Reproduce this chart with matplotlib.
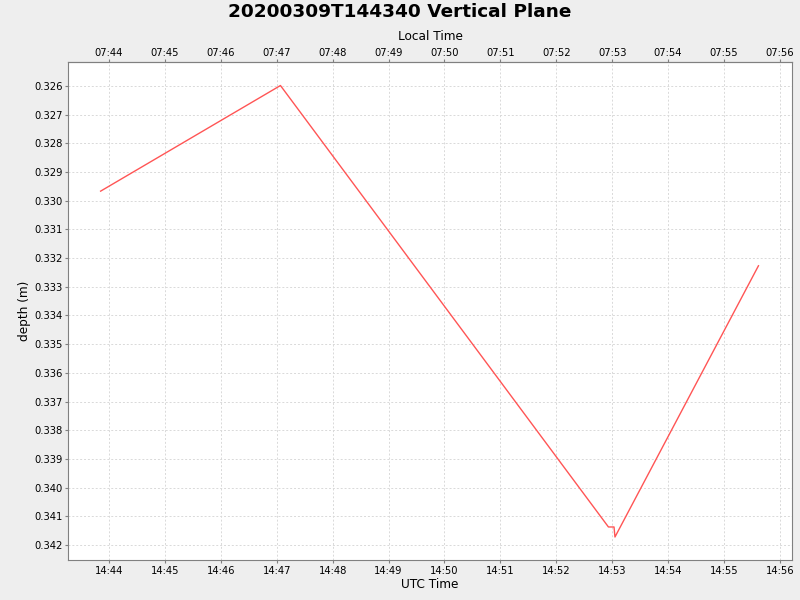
import datetime as dt

import matplotlib
matplotlib.use("Agg")
import matplotlib.dates as mdates
import matplotlib.pyplot as plt
from matplotlib.ticker import FixedLocator, FormatStrFormatter

# samples (UTC)
utc_times = [
    "2020-03-09 14:43:51",
    "2020-03-09 14:47:04",
    "2020-03-09 14:52:56",
    "2020-03-09 14:53:02",
    "2020-03-09 14:53:03",
    "2020-03-09 14:55:37",
]
depths = [0.32967, 0.32599, 0.34137, 0.34137, 0.34172, 0.33227]
depth_ticks = [0.326 + 0.001 * i for i in range(17)]

title = "20200309T144340 Vertical Plane"
local_offset_hours = -7

times = [dt.datetime.strptime(t, "%Y-%m-%d %H:%M:%S") for t in utc_times]

fig = plt.figure(figsize=(8, 6), dpi=100, facecolor="#eeeeee")
ax = fig.add_axes([0.085, 0.0667, 0.905, 0.83])
ax.set_facecolor("white")

ax.plot(times, depths, color="#ff5555", linewidth=1.0)

ax.set_xlim(dt.datetime(2020, 3, 9, 14, 43, 16), dt.datetime(2020, 3, 9, 14, 56, 13))
ax.set_ylim(0.34252, 0.32517)

ax.xaxis.set_major_locator(mdates.MinuteLocator())
ax.xaxis.set_major_formatter(mdates.DateFormatter("%H:%M"))
ax.yaxis.set_major_locator(FixedLocator(depth_ticks))
ax.yaxis.set_major_formatter(FormatStrFormatter("%.3f"))

off = local_offset_hours / 24.0
top = ax.secondary_xaxis("top", functions=(lambda x: x + off, lambda x: x - off))
top.xaxis.set_major_locator(mdates.MinuteLocator())
top.xaxis.set_major_formatter(mdates.DateFormatter("%H:%M"))
top.set_xlabel("Local Time", fontsize=8.7, labelpad=6)
top.tick_params(labelsize=7.2, length=2, color="#808080", pad=0.8)
top.spines["top"].set_color("#808080")

ax.grid(True, color="#d9d9d9", linestyle=(0, (2, 2)), linewidth=0.7)
ax.tick_params(labelsize=7.2, length=2, color="#808080", pad=2)
for side in ["left", "bottom", "right", "top"]:
    ax.spines[side].set_color("#808080")

ax.set_xlabel("UTC Time", fontsize=8.7, labelpad=2)
ax.set_ylabel("depth (m)", fontsize=8.7, labelpad=2)

fig.suptitle(title, fontsize=13.3, fontweight="bold", y=0.995)

fig.savefig("out.png", dpi=100, facecolor=fig.get_facecolor())
